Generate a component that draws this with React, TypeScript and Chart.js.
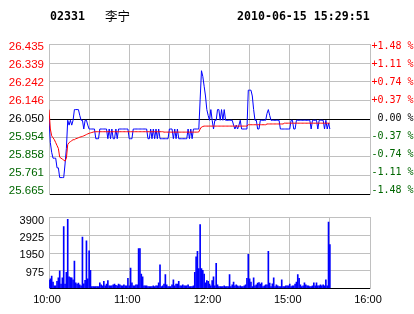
import React, { useEffect, useRef } from 'react';
import { Chart, registerables } from 'chart.js';

Chart.register(...registerables);

// ---------- header texts ----------
const stockCode = '02331';
const stockName = '李宁';
const timestamp = '2010-06-15 15:29:51';

// ---------- axis values / labels ----------
const priceMin = 25.665;
const priceMax = 26.435;
// top -> bottom
const priceTickLabels = ['26.435', '26.339', '26.242', '26.146', '26.050', '25.954', '25.858', '25.761', '25.665'];
const pctTickLabels = ['+1.48 %', '+1.11 %', '+0.74 %', '+0.37 %', ' 0.00 %', '-0.37 %', '-0.74 %', '-1.11 %', '-1.48 %'];
const volMax = 3900;
const volTickValues = [0, 975, 1950, 2925, 3900];
const volTickLabels = ['3900', '2925', '1950', '975'];
const sessionMinutes = 240; // 10:00-12:30 + 14:30-16:00
const timeTickMinutes = [0, 30, 60, 90, 120, 150, 180, 210, 240];
const timeTickLabels = ['10:00', '', '11:00', '', '12:00', '', '15:00', '', '16:00'];

// ---------- series (one entry per trading minute) ----------
const price = [
  26.06, 25.93, 25.88, 25.85, 25.85, 25.85, 25.80, 25.80, 25.75, 25.75,
  25.75, 25.75, 25.82, 25.90, 26.045, 26.02, 26.045, 26.02, 26.045, 26.10,
  26.10, 26.10, 26.10, 26.07, 26.045, 26.045, 26.00, 26.045, 26.045, 26.02,
  26.00, 26.00, 26.00, 26.00, 26.00, 25.95, 25.95, 25.95, 26.00, 26.00,
  26.00, 26.00, 26.00, 26.00, 25.95, 26.00, 25.95, 26.00, 25.95, 25.95,
  26.00, 25.95, 26.00, 26.00, 26.00, 26.00, 26.00, 26.00, 26.00, 26.00,
  25.95, 25.95, 25.95, 26.00, 26.00, 26.00, 26.00, 26.00, 26.00, 26.00,
  26.00, 26.00, 26.00, 26.00, 25.95, 25.95, 26.00, 25.95, 26.00, 25.95,
  26.00, 25.95, 26.00, 25.95, 25.95, 25.95, 25.95, 25.95, 25.95, 25.95,
  26.00, 26.00, 26.00, 25.95, 26.00, 25.95, 26.00, 25.95, 25.95, 25.95,
  25.95, 25.95, 25.95, 25.95, 26.00, 25.95, 26.00, 25.95, 26.00, 26.00,
  26.00, 26.00, 26.00, 26.15, 26.30, 26.27, 26.22, 26.17, 26.10, 26.07,
  26.045, 26.10, 26.045, 26.00, 26.045, 26.045, 26.10, 26.10, 26.045, 26.10,
  26.045, 26.10, 26.045, 26.045, 26.045, 26.045, 26.045, 26.045, 26.02, 26.00,
  26.02, 26.00, 26.02, 26.045, 26.00, 26.00, 26.00, 26.00, 26.00, 26.20,
  26.20, 26.20, 26.17, 26.10, 26.045, 26.045, 26.00, 26.00, 26.045, 26.045,
  26.045, 26.045, 26.045, 26.08, 26.10, 26.07, 26.045, 26.045, 26.045, 26.045,
  26.045, 26.045, 26.045, 26.00, 26.00, 26.00, 26.00, 26.00, 26.00, 26.00,
  26.00, 26.045, 26.045, 26.00, 26.00, 26.045, 26.045, 26.045, 26.045, 26.045,
  26.045, 26.045, 26.045, 26.045, 26.045, 26.045, 26.00, 26.045, 26.045, 26.045,
  26.045, 26.00, 26.045, 26.045, 26.045, 26.045, 26.00, 26.045, 26.00, 26.03, 26.00,
];

const avgPrice = [
  26.10, 26.00, 25.965, 25.955, 25.945, 25.93, 25.915, 25.90, 25.855, 25.85,
  25.845, 25.84, 25.835, 25.85, 25.92, 25.93, 25.935, 25.94, 25.945, 25.945,
  25.95, 25.952, 25.955, 25.958, 25.96, 25.962, 25.965, 25.968, 25.972, 25.975,
  25.978, 25.98, 25.982, 25.984, 25.986, 25.986, 25.986, 25.986, 25.986, 25.986,
  25.986, 25.986, 25.986, 25.986, 25.986, 25.986, 25.986, 25.986, 25.986, 25.986,
  25.986, 25.986, 25.986, 25.986, 25.986, 25.986, 25.986, 25.986, 25.986, 25.986,
  25.986, 25.986, 25.986, 25.986, 25.986, 25.986, 25.986, 25.986, 25.986, 25.986,
  25.986, 25.986, 25.986, 25.986, 25.986, 25.986, 25.986, 25.986, 25.986, 25.986,
  25.986, 25.986, 25.986, 25.986, 25.986, 25.986, 25.984, 25.984, 25.984, 25.984,
  25.984, 25.984, 25.984, 25.984, 25.984, 25.984, 25.984, 25.984, 25.984, 25.984,
  25.984, 25.984, 25.984, 25.984, 25.984, 25.984, 25.984, 25.984, 25.984, 25.984,
  25.984, 25.984, 25.985, 26.00, 26.01, 26.013, 26.015, 26.015, 26.015, 26.015,
  26.015, 26.015, 26.015, 26.015, 26.015, 26.015, 26.015, 26.015, 26.015, 26.015,
  26.015, 26.015, 26.015, 26.015, 26.015, 26.015, 26.015, 26.015, 26.015, 26.015,
  26.015, 26.015, 26.015, 26.015, 26.015, 26.015, 26.015, 26.015, 26.015, 26.022,
  26.022, 26.022, 26.022, 26.022, 26.022, 26.022, 26.022, 26.022, 26.022, 26.022,
  26.022, 26.022, 26.022, 26.026, 26.026, 26.026, 26.026, 26.026, 26.026, 26.026,
  26.026, 26.026, 26.026, 26.026, 26.026, 26.026, 26.03, 26.03, 26.03, 26.03,
  26.03, 26.03, 26.03, 26.03, 26.03, 26.03, 26.03, 26.03, 26.03, 26.03,
  26.03, 26.03, 26.03, 26.03, 26.03, 26.03, 26.03, 26.03, 26.03, 26.03,
  26.03, 26.03, 26.03, 26.03, 26.03, 26.03, 26.03, 26.03, 26.03, 26.03, 26.03,
];

const volume = [
  450, 530, 690, 360, 150, 150, 400, 590, 970, 250,
  590, 3400, 250, 890, 3800, 640, 600, 590, 480, 1510,
  310, 250, 300, 200, 150, 2830, 260, 450, 2620, 530,
  2070, 1000, 100, 100, 100, 100, 100, 100, 310, 200,
  150, 390, 150, 250, 430, 150, 150, 150, 200, 250,
  180, 150, 250, 200, 150, 150, 200, 150, 150, 560,
  150, 1130, 310, 150, 150, 200, 200, 2200, 2200, 800,
  640, 150, 150, 150, 100, 100, 100, 100, 150, 100,
  150, 150, 310, 1300, 100, 150, 250, 760, 200, 100,
  100, 100, 200, 480, 150, 250, 250, 400, 150, 150,
  200, 150, 150, 150, 200, 100, 100, 100, 150, 890,
  1740, 2040, 1090, 3520, 1090, 1000, 800, 310, 430, 395,
  250, 150, 440, 640, 150, 1380, 200, 100, 100, 100,
  100, 150, 100, 100, 100, 760, 100, 200, 360, 150,
  200, 150, 100, 150, 100, 100, 150, 200, 560, 1880,
  530, 350, 100, 590, 150, 200, 300, 330, 250, 310,
  100, 150, 200, 200, 2040, 300, 100, 260, 590, 100,
  200, 150, 100, 100, 480, 100, 100, 150, 150, 150,
  250, 100, 150, 150, 250, 350, 760, 560, 200, 100,
  150, 310, 200, 150, 150, 100, 100, 150, 310, 150,
  310, 150, 150, 200, 150, 200, 150, 480, 150, 3650, 2420,
];

// ---------- styles ----------
const RED = '#FF0000';
const GREEN = '#006600';
const BLUE = '#0000FF';
const GRID = '#C0C0C0';
const BLACK = '#000000';

function labelColor(topIndex: number) {
  if (topIndex < 4) return RED;
  if (topIndex === 4) return BLACK;
  return GREEN;
}

const noGrid = { display: false, drawTicks: false, tickLength: 0 };

export default function App() {
  const priceRef = useRef<HTMLCanvasElement>(null);
  const volRef = useRef<HTMLCanvasElement>(null);

  useEffect(() => {
    const header = {
      id: 'header',
      afterDraw(chart: any) {
        const c = chart.ctx;
        c.save();
        c.fillStyle = BLACK;
        c.textAlign = 'left';
        c.textBaseline = 'middle';
        c.font = 'bold 11.6px "DejaVu Sans Mono"';
        c.fillText(stockCode, 50, 17);
        c.font = '12.5px "Noto Sans CJK SC"';
        c.fillText(stockName, 105, 16);
        c.font = 'bold 11.6px "DejaVu Sans Mono"';
        c.fillText(timestamp, 237, 17);
        c.restore();
      },
    };

    const priceStep = (priceMax - priceMin) / (priceTickLabels.length - 1);
    const nLab = priceTickLabels.length - 1;

    const xGrid = (showLabels: boolean, height: number) => ({
      type: 'linear',
      min: 0,
      max: sessionMinutes,
      offset: false,
      afterBuildTicks: (a: any) => {
        a.ticks = timeTickMinutes.map((v) => ({ value: v }));
      },
      ticks: showLabels
        ? {
            display: true,
            autoSkip: false,
            maxRotation: 0,
            padding: 4.5,
            labelOffset: -2,
            color: BLACK,
            font: { family: 'Liberation Sans', size: 11 },
            callback: (_v: any, i: number) => timeTickLabels[i],
          }
        : { display: false },
      grid: { color: GRID, drawTicks: false, offset: false },
      border: { display: true, color: BLACK },
      afterFit: (a: any) => {
        a.height = height;
      },
    });

    const priceChart = new Chart(priceRef.current as HTMLCanvasElement, {
      type: 'line',
      data: {
        datasets: [
          {
            data: avgPrice.map((y, i) => ({ x: i, y })),
            borderColor: RED,
            borderWidth: 1,
            pointRadius: 0,
            tension: 0,
            fill: false,
            xAxisID: 'x',
            yAxisID: 'y',
          },
          {
            data: price.map((y, i) => ({ x: i, y })),
            borderColor: BLUE,
            borderWidth: 1,
            pointRadius: 0,
            tension: 0,
            fill: false,
            xAxisID: 'x',
            yAxisID: 'y',
          },
        ],
      },
      options: {
        responsive: false,
        animation: false,
        events: [],
        layout: { padding: { top: 44.5, bottom: 2.5, left: 0, right: 0 } },
        plugins: { legend: { display: false }, tooltip: { enabled: false }, title: { display: false } },
        scales: {
          x: xGrid(false, 0) as any,
          y: {
            type: 'linear',
            position: 'left',
            weight: 0,
            min: priceMin,
            max: priceMax,
            afterBuildTicks: (a: any) => {
              a.ticks = priceTickLabels.map((_, i) => ({ value: priceMin + i * priceStep }));
            },
            ticks: { display: false },
            grid: {
              drawTicks: false,
              color: (ctx: any) => (ctx.index === 0 || ctx.index === 4 ? BLACK : GRID),
            },
            border: { display: true, color: GRID },
            afterFit: (a: any) => {
              a.width = 0;
            },
          },
          yl: {
            type: 'linear',
            position: 'left',
            weight: 1,
            min: -0.182,
            max: 8.115,
            afterBuildTicks: (a: any) => {
              a.ticks = priceTickLabels.map((_, i) => ({ value: i }));
            },
            ticks: {
              padding: 5,
              font: { family: 'Liberation Sans', size: 11.5 },
              color: (ctx: any) => labelColor(nLab - ctx.index),
              callback: (_v: any, i: number) => priceTickLabels[nLab - i],
            },
            grid: noGrid,
            border: { display: false },
            afterFit: (a: any) => {
              a.width = 49;
            },
          },
          yr: {
            type: 'linear',
            position: 'right',
            min: -0.182,
            max: 8.115,
            afterBuildTicks: (a: any) => {
              a.ticks = pctTickLabels.map((_, i) => ({ value: i }));
            },
            ticks: {
              padding: 1.5,
              font: { family: 'DejaVu Sans Mono', size: 10 },
              color: (ctx: any) => labelColor(nLab - ctx.index),
              callback: (_v: any, i: number) => pctTickLabels[nLab - i],
            },
            grid: noGrid,
            border: { display: true, color: GRID },
            afterFit: (a: any) => {
              a.width = 44;
            },
          },
        } as any,
      },
      plugins: [header],
    } as any);

    const nVol = volTickLabels.length;
    const volChart = new Chart(volRef.current as HTMLCanvasElement, {
      type: 'bar',
      data: {
        datasets: [
          {
            data: volume.map((y, i) => ({ x: i, y })),
            backgroundColor: BLUE,
            borderWidth: 0,
            barThickness: 1,
            xAxisID: 'x',
            yAxisID: 'y',
          },
        ],
      },
      options: {
        responsive: false,
        animation: false,
        events: [],
        layout: { padding: { top: 3.5, bottom: 0, left: 0, right: 0 } },
        plugins: { legend: { display: false }, tooltip: { enabled: false }, title: { display: false } },
        scales: {
          x: xGrid(true, 25.5) as any,
          y: {
            type: 'linear',
            position: 'left',
            weight: 0,
            min: 0,
            max: volMax,
            afterBuildTicks: (a: any) => {
              a.ticks = volTickValues.map((v) => ({ value: v }));
            },
            ticks: { display: false },
            grid: { drawTicks: false, color: (ctx: any) => (ctx.index === 0 ? BLACK : GRID) },
            border: { display: true, color: GRID },
            afterFit: (a: any) => {
              a.width = 0;
            },
          },
          yl: {
            type: 'linear',
            position: 'left',
            weight: 1,
            min: 0.074,
            max: 4.182,
            afterBuildTicks: (a: any) => {
              a.ticks = volTickLabels.map((_, i) => ({ value: i + 1 }));
            },
            ticks: {
              padding: 5,
              color: BLACK,
              font: { family: 'Liberation Sans', size: 11 },
              callback: (_v: any, i: number) => volTickLabels[nVol - 1 - i],
            },
            grid: noGrid,
            border: { display: false },
            afterFit: (a: any) => {
              a.width = 49;
            },
          },
          yr: {
            type: 'linear',
            position: 'right',
            min: 0,
            max: 1,
            ticks: { display: false },
            grid: noGrid,
            border: { display: true, color: GRID },
            afterFit: (a: any) => {
              a.width = 44;
            },
          },
        } as any,
      },
    } as any);

    return () => {
      priceChart.destroy();
      volChart.destroy();
    };
  }, []);

  return (
    <div style={{ position: 'absolute', left: 0, top: 0, width: 414, height: 314, background: '#fff' }}>
      <canvas ref={priceRef} width={414} height={206} style={{ display: 'block', width: 414, height: 206 }} />
      <canvas ref={volRef} width={414} height={108} style={{ display: 'block', width: 414, height: 108 }} />
    </div>
  );
}
